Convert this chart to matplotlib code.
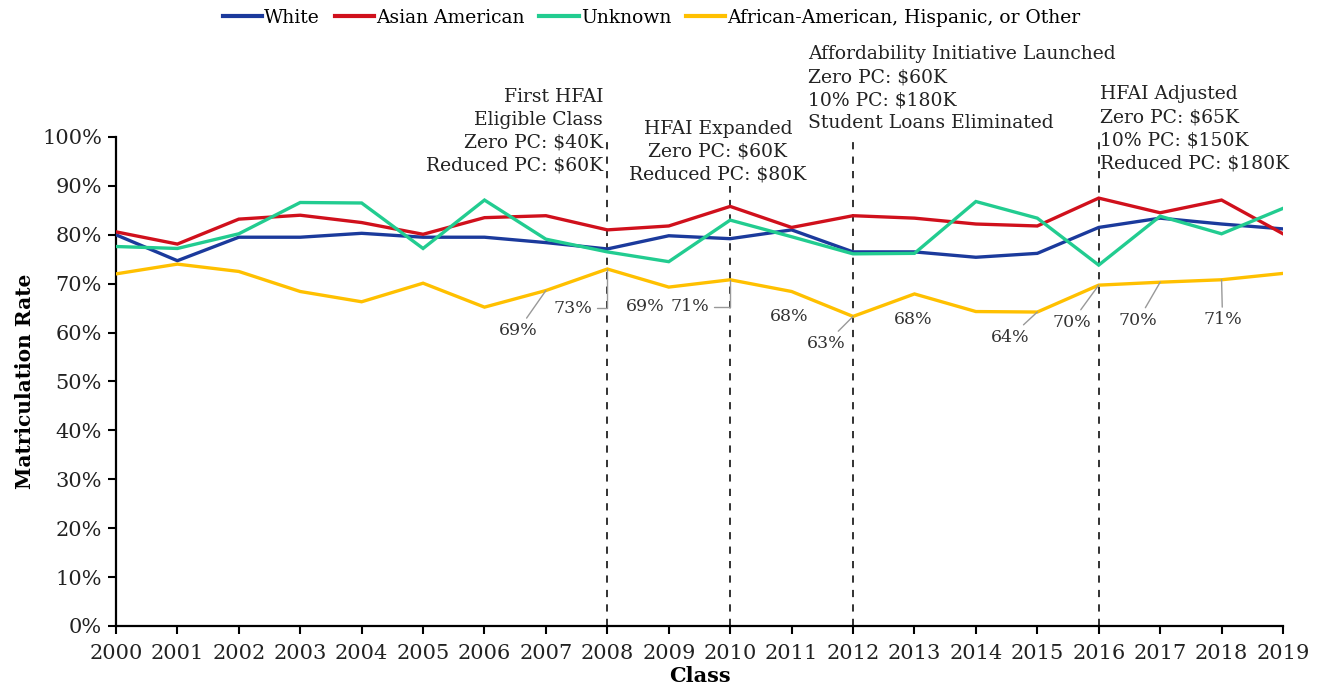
import matplotlib
matplotlib.use("Agg")
import matplotlib.pyplot as plt
from matplotlib.ticker import FuncFormatter

years = list(range(2000, 2020))
white = [80.0, 74.7, 79.5, 79.5, 80.3, 79.5, 79.5, 78.4, 77.1, 79.8,
         79.2, 81.0, 76.5, 76.5, 75.4, 76.2, 81.5, 83.4, 82.2, 81.2]
asian = [80.6, 78.1, 83.2, 84.0, 82.5, 80.1, 83.5, 83.9, 81.0, 81.8,
         85.8, 81.5, 83.9, 83.4, 82.2, 81.8, 87.5, 84.5, 87.1, 80.2]
unknown = [77.6, 77.2, 80.2, 86.6, 86.5, 77.2, 87.1, 79.1, 76.5, 74.5,
           83.0, 79.6, 76.1, 76.2, 86.8, 83.4, 73.8, 83.8, 80.2, 85.4]
aaho = [72.0, 74.0, 72.5, 68.4, 66.3, 70.1, 65.2, 68.6, 73.0, 69.3,
        70.8, 68.4, 63.3, 67.9, 64.3, 64.2, 69.7, 70.3, 70.8, 72.1]

series_names = ["White", "Asian American", "Unknown",
                "African-American, Hispanic, or Other"]
series_colors = ["#1b3a9c", "#d0101c", "#22cc90", "#ffc000"]

label_years = [2007, 2008, 2009, 2010, 2011, 2012, 2013, 2015, 2016, 2017, 2018]

event_years = [2008, 2010, 2012, 2016]
event_texts = [
    "First HFAI\nEligible Class\nZero PC: $40K\nReduced PC: $60K",
    "HFAI Expanded\nZero PC: $60K\nReduced PC: $80K",
    "Affordability Initiative Launched\nZero PC: $60K\n10% PC: $180K\nStudent Loans Eliminated",
    "HFAI Adjusted\nZero PC: $65K\n10% PC: $150K\nReduced PC: $180K",
]

SERIF = "DejaVu Serif"
plt.rcParams["font.family"] = SERIF

fig = plt.figure(figsize=(13.19, 6.96), dpi=100)
ax = fig.add_axes([0.0879, 0.1006, 0.8848, 0.7026])

for vals, name, col in zip([white, asian, unknown, aaho], series_names, series_colors):
    ax.plot(years, vals, color=col, lw=2.4, label=name, solid_joinstyle="miter", zorder=3)

ax.set_xlim(2000, 2019)
ax.set_ylim(0, 100)
ax.set_xticks(years)
ax.set_yticks(range(0, 101, 10))
ax.yaxis.set_major_formatter(FuncFormatter(lambda v, p: f"{int(v)}%"))
for s in ["top", "right"]:
    ax.spines[s].set_visible(False)
for s in ["left", "bottom"]:
    ax.spines[s].set_linewidth(1.6)
ax.tick_params(axis="both", direction="out", length=6, width=1.5, labelsize=15,
               labelcolor="#222222")
ax.tick_params(axis="x", pad=7)
ax.tick_params(axis="y", pad=4)
ax.set_ylabel("Matriculation Rate", fontsize=14.5, fontweight="bold", labelpad=5)
ax.set_xlabel("Class", fontsize=15, fontweight="bold", labelpad=2)

# event lines
line_tops = [100, 90, 100, 100]
for yr, top in zip(event_years, line_tops):
    ax.plot([yr, yr], [0, top], ls=(0, (4, 4)), color="#222222", lw=1.3,
            clip_on=False, zorder=2)

tx = dict(fontsize=13.5, color="#222222", linespacing=1.36, clip_on=False)
ax.text(2007.93, 110.1, event_texts[0], ha="right", va="top", **tx)
ax.text(2009.8, 103.5, event_texts[1], ha="center", va="top", **tx)
ax.text(2011.27, 118.8, event_texts[2], ha="left", va="top", **tx)
ax.text(2016.02, 110.6, event_texts[3], ha="left", va="top", **tx)

# data labels on the last series
px2pt = 0.72
offsets = {2007: (-28, -40), 2008: (-34, -39), 2009: (-24, -19), 2010: (-40, -27),
           2011: (-2, -25), 2012: (-27, -27), 2013: (-1, -26), 2015: (-27, -25),
           2016: (-27, -37), 2017: (-22, -38), 2018: (1, -40)}
leader = {2007: "line", 2008: "angle", 2010: "angle", 2012: "line", 2015: "line",
          2016: "line", 2017: "line", 2018: "line"}
for yr in label_years:
    v = aaho[years.index(yr)]
    dx, dy = offsets[yr]
    kw = {}
    if yr in leader:
        cs = "angle,angleA=0,angleB=90,rad=0" if leader[yr] == "angle" else "arc3"
        kw["arrowprops"] = dict(arrowstyle="-", color="#999999", lw=1.0,
                                connectionstyle=cs, shrinkA=1, shrinkB=0)
    ax.annotate(f"{round(v)}%", xy=(yr, v), xytext=(dx * px2pt, dy * px2pt),
                textcoords="offset points", ha="center", va="center",
                fontsize=12.5, color="#333333", zorder=4, **kw)

leg = ax.legend(loc="upper center", bbox_to_anchor=(0.459, 1.277), ncol=4, frameon=False,
                fontsize=13.5, handlelength=2.1, handletextpad=0.1, columnspacing=0.8,
                borderaxespad=0)
for h in leg.get_lines():
    h.set_linewidth(3)

fig.savefig("out.png", dpi=100)
